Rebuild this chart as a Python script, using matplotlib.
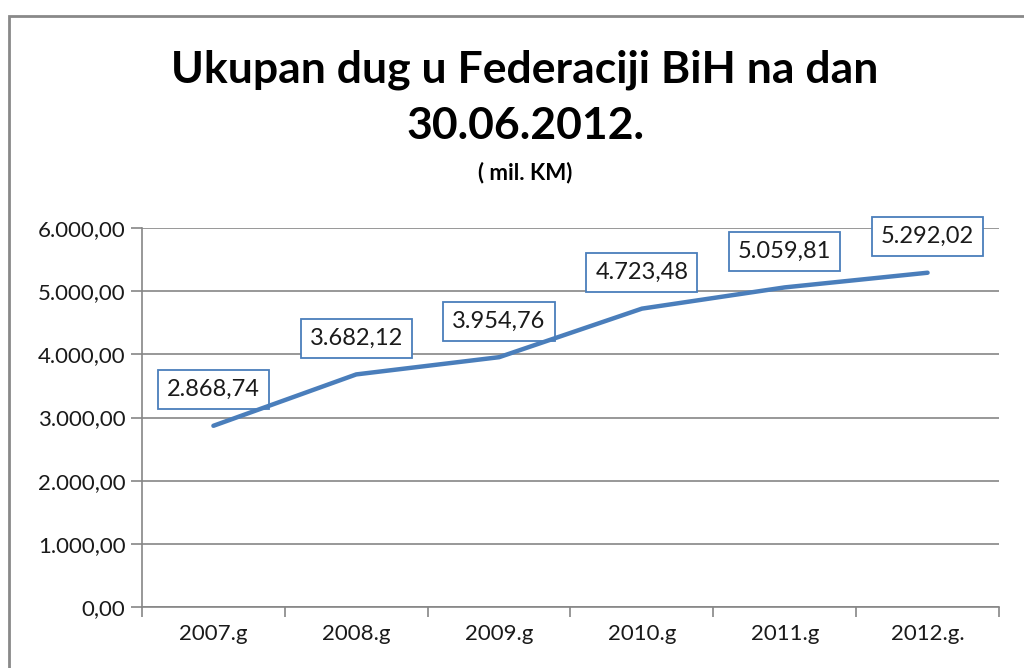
import matplotlib.pyplot as plt
from matplotlib.patches import Rectangle
from matplotlib.ticker import FuncFormatter

godine = ['2007.g', '2008.g', '2009.g', '2010.g', '2011.g', '2012.g.']
dug = [2868.74, 3682.12, 3954.76, 4723.48, 5059.81, 5292.02]

def fmt(v, pos=None):
    s = '{:,.2f}'.format(v)
    return s.replace(',', 'X').replace('.', ',').replace('X', '.')

plt.rcParams['font.family'] = ['Lato', 'DejaVu Sans']

W, H = 1024, 668
fig = plt.figure(figsize=(W / 100, H / 100), dpi=100)

# okvir grafikona (desno i dolje odrezan)
fig.patches.append(Rectangle((9 / W, -0.1), 1.2, 1 - 16 / H + 0.1, transform=fig.transFigure,
                             fill=False, edgecolor='#898989', linewidth=2))

ax = fig.add_axes([142 / W, 1 - 607 / H, (999 - 142) / W, (607 - 228) / H])
x = list(range(len(godine)))
ax.plot(x, dug, color='#4A7EBB', linewidth=3.2, solid_capstyle='round', zorder=4)

for xi, v in zip(x, dug):
    ax.annotate(fmt(v), (xi, v), xytext=(0, 26), textcoords='offset points',
                ha='center', va='center', fontsize=17, color='#1a1a1a', zorder=3,
                bbox=dict(boxstyle='square,pad=0.38', facecolor='white',
                          edgecolor='#4A7EBB', linewidth=1.3))

ax.set_xlim(-0.5, 5.5)
ax.set_ylim(0, 6000)
ax.set_yticks(range(0, 6001, 1000))
ax.yaxis.set_major_formatter(FuncFormatter(fmt))
ax.set_xticks([i - 0.5 for i in range(len(godine) + 1)])
ax.set_xticklabels([])
ax.set_xticks(x, minor=True)
ax.set_xticklabels(godine, minor=True)
ax.tick_params(axis='x', which='major', length=7, color='#868686', width=1.2, direction='out')
ax.tick_params(axis='x', which='minor', length=0, pad=12, labelsize=16, labelcolor='#1a1a1a')
ax.tick_params(axis='y', length=8, color='#868686', width=1.2, pad=4, labelsize=16, labelcolor='#1a1a1a')
ax.grid(axis='y', color='#868686', linewidth=1.2)
ax.set_axisbelow(True)
for s in ['top', 'right']:
    ax.spines[s].set_visible(False)
for s in ['left', 'bottom']:
    ax.spines[s].set_color('#868686')
    ax.spines[s].set_linewidth(1.2)

fig.text(525 / W, 1 - 70 / H, 'Ukupan dug u Federaciji BiH na dan', ha='center', va='center',
         fontsize=32, fontweight='bold')
fig.text(525 / W, 1 - 126 / H, '30.06.2012.', ha='center', va='center',
         fontsize=32, fontweight='bold')
fig.text(525 / W, 1 - 173 / H, '( mil. KM)', ha='center', va='center',
         fontsize=16, fontweight='bold')

fig.savefig('out.png', dpi=100)
